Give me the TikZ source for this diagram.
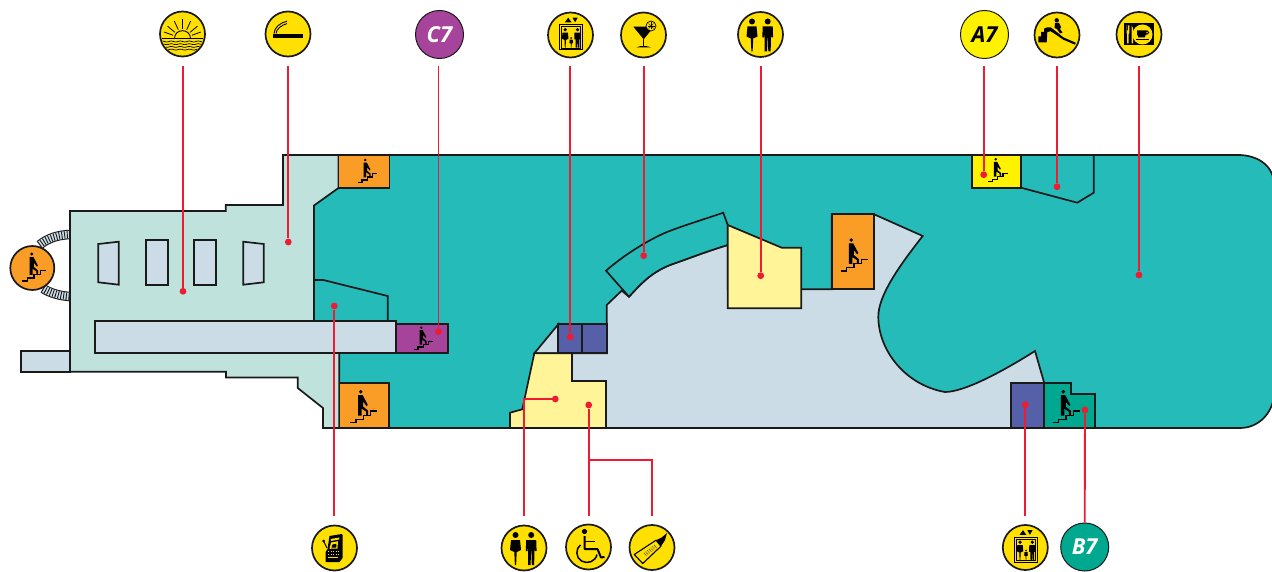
\documentclass[tikz,border=0pt]{standalone}
\usepackage{fontspec}
\usetikzlibrary{calc}
\newfontfamily\signfont{Open Sans}
\definecolor{teal1}{HTML}{25BBB9}
\definecolor{mint}{HTML}{BFE3DC}
\definecolor{greyb}{HTML}{CBDCE6}
\definecolor{orange1}{HTML}{F99D27}
\definecolor{purple1}{HTML}{A5449A}
\definecolor{blue1}{HTML}{5560A8}
\definecolor{paley}{HTML}{FFF498}
\definecolor{green1}{HTML}{00A88F}
\definecolor{yell}{HTML}{FFF200}
\definecolor{icony}{HTML}{FFE000}
\definecolor{redl}{HTML}{ED1C33}
\definecolor{ink}{HTML}{1A1A1A}
\newcommand{\hatcharc}[1]{%
  \draw[ink,line width=9.5pt] #1;
  \draw[greyb,line width=7.4pt] #1;
  \draw[ink,line width=7.4pt,dash pattern=on .9pt off 1.8pt] #1;
}
\tikzset{
  area/.style={draw=ink,line width=1.7pt,line join=miter},
  icon/.style={circle,draw=ink,line width=1.7pt,fill=icony,minimum size=45pt,inner sep=0pt},
  sign/.style={circle,draw=ink,line width=1pt,minimum size=48pt,inner sep=0pt,font=\signfont\bfseries\itshape\fontsize{22}{22}\selectfont},
  dot/.style={circle,fill=redl,minimum size=6.8pt,inner sep=0pt},
  redline/.style={draw=redl,line width=1.9pt},
  pics/walker/.style={code={
    \fill[black] (0,0) circle (1.9);
    \fill[black] (-2.5,3.5)--(2,3.5)--(7,13)--(6,14.5)--(2.5,10)--(2.5,15)--(7.5,19)--(7.5,24)--(5.5,24)--(5.5,20)--(1,17)--(1,24)--(-2.5,24)--cycle;
    \draw[black,line width=1.2pt] (-10.7,31)--(-4.7,31)--(-4.7,27.7)--(2.7,27.7)--(2.7,23.7)--(10,23.7)--(10,19.3)--(16.7,19.3);
  }},
  pics/woman/.style={code={
    \fill[black] (0,-13) circle (3);
    \fill[black] (-4.5,-8)--(4.5,-8)--(5.5,2)--(1.2,4)--(.6,17)--(-.6,17)--(-1.2,4)--(-5.5,2)--cycle;
  }},
  pics/man/.style={code={
    \fill[black] (0,-13) circle (3);
    \fill[black] (-5,-8)--(5,-8)--(5.4,3)--(3.6,3)--(3.2,-3)--(3,17)--(.6,17)--(.2,3)--(-.2,3)--(-.6,17)--(-3,17)--(-3.2,-3)--(-3.6,3)--(-5.4,3)--cycle;
  }},
  pics/lift/.style={code={
    \draw[black,line width=1.2pt] (-10.7,-10.3) rectangle (12,14.7);
    \draw[black,line width=.5pt] (-8.9,-8.5) rectangle (10.2,12.9);
    \fill[black] (-5.7,-12.7)--(1,-12.7)--(-2.3,-17.3)--cycle;
    \fill[black] (2,-17.3)--(7.2,-17.3)--(4.6,-12.7)--cycle;
    \pic[scale=.6] at (-5.3,2.5) {woman};
    \pic[scale=.6] at (7,2.5) {man};
    \pic[scale=.33] at (.7,7.3) {woman};
  }},
}
\begin{document}
\begin{tikzpicture}[x=1pt,y=-1pt]
\useasboundingbox (0,0) rectangle (1272,572);
% arcs of the round stair
\hatcharc{(39.5,245) .. controls (48,238) and (58,235) .. (70,234.5)}
\hatcharc{(43,288.5) .. controls (50,293) and (60,296) .. (70,296.5)}
% main hull
\path[area,fill=teal1] (314,155)--(1238,155) .. controls (1256,155) and (1272,164) .. (1274,182)--(1274,396) .. controls (1272,414) and (1258,428) .. (1240,428)--(339,428)--(339,335)--(314,335)--cycle;
\path[area,fill=mint] (70,211)--(225.7,211)--(225.7,205)--(283,205)--(283,155)--(338.5,155)--(338.5,188)--(314,205.5)--(314,321)--(339.3,321)--(339.3,428)--(323,428)--(323,408)--(297.7,388)--(297.7,377.5)--(226,377.5)--(226,371.7)--(70,371.7)--cycle;
\path[area,fill=greyb] (20.7,351) rectangle (70,371.7);
\path[area,fill=greyb] (98.3,244)--(118.7,241.7)--(118.7,284.7)--(98.3,282.3)--cycle;
\path[area,fill=greyb] (145.7,240)--(167.7,240)--(167.7,285.3)--(145.7,285.3)--cycle;
\path[area,fill=greyb] (194.3,240)--(216.3,240)--(216.3,285.3)--(194.3,285.3)--cycle;
\path[area,fill=greyb] (243.3,241.7)--(263.7,244)--(263.7,282.3)--(243.3,284.7)--cycle;
\path[area] (314.3,280)--(323.3,280)--(387.7,296)--(387.7,321);
\path[area,fill=greyb] (95,321) rectangle (395.7,353);
\path[area,fill=purple1] (395.7,324) rectangle (448,353);
\path[area,fill=orange1] (338.5,155) rectangle (389.5,188);
\path[area,fill=orange1] (339.5,383) rectangle (389,428);
\path[area,fill=orange1] (32.3,268) circle (22);
% centre
\path[area,fill=greyb] (874,214.3)--(922.7,236) .. controls (900,265) and (878.3,295) .. (878.3,316.7) .. controls (878.3,350) and (905,385) .. (945,392) .. controls (965,392) and (1005,370) .. (1035,351)--(1044.3,383.3)--(1044.3,428)--(572,428)--(572,353.3)--(606.7,353.3)--(606.7,305)--(621.7,290.7)--(629,296.7) .. controls (640,285) and (650,273) .. (670,265) .. controls (690,258) and (705,252) .. (727.7,245)--(727.7,289.3)--(831.7,289.3)--(831.7,214.3)--cycle;
\path[area,fill=teal1] (606,270.7) .. controls (630,250) and (655,237) .. (667,232) .. controls (685,225) and (705,219) .. (723.3,212.7)--(727.7,225)--(727.7,245) .. controls (705,252) and (690,258) .. (670,265) .. controls (650,273) and (640,285) .. (629,296.7)--cycle;
\path[area,fill=paley] (727.7,225)--(781.7,247.7)--(801.3,247.7)--(801.3,308.3)--(727.7,308.3)--cycle;
\path[area,fill=orange1] (831.7,214.3) rectangle (874,289.3);
\path[area,fill=greyb] (558.3,324.3)--(534.3,353.3)--(558.3,353.3)--cycle;
\path[area,fill=blue1] (558.3,324.3) rectangle (581.7,353.3);
\path[area,fill=blue1] (581.7,324.3) rectangle (606.7,353.3);
\path[area,fill=paley] (534.3,353.3)--(572,353.3)--(572,381)--(606,381)--(606,428)--(510,428)--(510,412.7)--(522.3,409.3)--cycle;
\path[area,fill=blue1] (1010.7,383.3) rectangle (1044.3,428);
\path[area,fill=green1] (1044.3,383.3)--(1070.7,383.3)--(1070.7,394.3)--(1095,394.3)--(1095,428)--(1044.3,428)--cycle;
\path[area,fill=yell] (971.7,155) rectangle (1021,187.7);
\path[area] (1021,187.7)--(1077.3,202.7)--(1093.7,192.7)--(1093.7,155);
% walkers
\pic[scale=1] at (360.7,391.7) {walker};
\pic[scale=.72] at (365.3,160) {walker};
\pic[scale=.87] at (31.7,254) {walker};
\pic[scale=.7] at (421.3,327.7) {walker};
\pic[scale=1] at (851.3,240) {walker};
\pic[scale=.72] at (995.7,159.3) {walker};
\pic[scale=1] at (1063.3,391.7) {walker};
% circular signs
\node[icon] (sun) at (182.5,34) {};
\node[icon] (cig) at (288,34) {};
\node[sign,fill=purple1,text=white] (c) at (439.5,34.5) {C7};
\node[icon] (liftt) at (570.5,35) {};
\node[icon] (cock) at (643.5,35) {};
\node[icon] (wct) at (760.5,34.5) {};
\node[sign,fill=yell,text=black] (a) at (984.5,34.5) {A7};
\node[icon] (slide) at (1057,35) {};
\node[icon] (rest) at (1139,34.5) {};
\node[icon] (slot) at (334.5,548) {};
\node[icon] (wcb) at (524,548) {};
\node[icon] (chair) at (588.5,547) {};
\node[icon] (bottle) at (652,547.5) {};
\node[icon] (liftb) at (1025.3,547.5) {};
\node[sign,fill=green1,text=white] (b) at (1084.7,547) {B7};
% sun
\begin{scope}[shift={(sun)}]
  \clip (0,0) circle (21.2);
  \foreach \a in {20,40,65,90,115,140,160}{
    \draw[black,line width=.8pt] ({10*cos(\a)},{4.7-10*sin(\a)})--({19.5*cos(\a)},{4.7-19.5*sin(\a)});
  }
  \draw[black,line width=.9pt] (-8,4.7) .. controls (-8,-6) and (8,-6) .. (8,4.7);
  \draw[black,line width=1.1pt] (-22,4.7)--(22,4.7);
  \foreach \y in {7.5,10.2,12.9,15.6}{
    \draw[black,line width=.7pt] plot[domain=-22:22,samples=45] (\x,{\y+.45*sin(40*\x)});
  }
\end{scope}
% cigarette
\begin{scope}[shift={(cig)}]
  \fill[black] (-15.3,0) rectangle (14.7,3.7);
  \draw[black,line width=.9pt] (-14,-.5) .. controls (-13.5,-7) and (-8,-11) .. (-1,-12.8);
  \draw[black,line width=.9pt] (-12,-.5) .. controls (-11.5,-5.5) and (-6,-9) .. (-1,-10.4);
\end{scope}
% lift signs
\pic at (liftt) {lift};
\pic at (liftb) {lift};
% cocktail
\begin{scope}[shift={(cock)}]
  \fill[black] (-10.2,-8.3)--(10.5,-8.3)--(.2,4.3)--cycle;
  \draw[black,line width=1.2pt] (.2,4)--(.2,11);
  \fill[black] (-7,12.3) .. controls (-3,10.5) and (3,10.5) .. (7.2,12.3)--cycle;
  \filldraw[draw=black,fill=icony,line width=.7pt] (7.5,-9) circle (5);
  \foreach \a/\b in {-3.5/0,-2.5/2.5,0/3.5,2.5/2.5,3.5/0,2.5/-2.5,0/-3.5,-2.5/-2.5}{
    \draw[black,line width=.35pt] (7.5,-9)--++(\a,\b);
  }
\end{scope}
% toilets
\pic at ($(wct)+(-8.5,0)$) {woman};
\pic at ($(wct)+(7.2,0)$) {man};
\pic at ($(wcb)+(-8.5,0)$) {woman};
\pic at ($(wcb)+(7.2,0)$) {man};
% slide
\begin{scope}[shift={(slide)}]
  \fill[black] (-18.7,7.3)--(-18.7,1.3)--(-16,1.3)--(-16,-3)--(-13,-3)--(-13,-6.3)--(-9.7,-7.7)--(-6.3,-7.7)--(-.3,-3)--(6.3,2.3)--(18.7,7.7)--(18,9.7)--(6.3,4.7)--(-2,-1)--(-6.3,-3.7)--(-9.7,-3)--(-10.3,7.3)--cycle;
  \fill[black] (-.3,-14.7) circle (2.2);
  \fill[black] (-2,-12)--(2,-12)--(4,-8)--(3,-6)--(5.5,-2.5)--(3,-1.5)--(0,-6)--(-2.5,-7)--cycle;
\end{scope}
% restaurant
\begin{scope}[shift={(rest)}]
  \fill[black] (-15,-11.7) rectangle (15,11);
  \fill[icony] (3.5,0) circle (10);
  \fill[icony] (-12.5,-9)--(-11.8,-9)--(-11.8,-4)--(-11,-4)--(-11,-9)--(-10.3,-9)--(-10.3,-9)--(-9.6,-9)--(-9.6,-2)--(-10.3,-.5)--(-10.3,9)--(-11.8,9)--(-11.8,-.5)--(-12.5,-2)--cycle;
  \fill[icony] (-7.5,-9) .. controls (-5.5,-7) and (-5.5,-3) .. (-5.8,0)--(-5.8,9)--(-7.5,9)--cycle;
  \fill[black] (-2,-4) rectangle (7,1) (-1,1) rectangle (6,3);
  \draw[black,line width=.8pt] (8,-2) circle (1.8);
  \draw[black,line width=1pt] (-3.5,5)--(10,5);
\end{scope}
% slot machine
\begin{scope}[shift={(slot)}]
  \fill[black] (-5,-12)--(7,-14)--(8,-13)--(8,10)--(5,14)--(-9,14)--(-9,4)--(-7,1)--cycle;
  \fill[icony] (-3.8,-9)--(5,-10.5)--(4.5,-8.5)--(-3.6,-7)--cycle;
  \fill[icony] (-3.5,-5.5)--(3.5,-6.8)--(3,.5)--(-5,.8)--cycle;
  \fill[black] (-2,-3.5)--(2,-4.2)--(1.7,-.5)--(-3,-.3)--cycle;
  \foreach \x in {-6.5,-4,-1.5,1,3.5}{\fill[icony] (\x,3) rectangle ++(1.4,1.2);\fill[icony] (\x,6) rectangle ++(1.4,1.2);}
  \fill[icony] (-7,9) rectangle (3,10);
  \draw[black,line width=.9pt] (-11,-7)--(-7.5,0);
  \fill[black] (-11,-7) circle (1.5);
\end{scope}
% wheelchair
\begin{scope}[shift={(chair)}]
  \fill[black] (-4,-15.5) circle (2.6);
  \draw[black,line width=2pt,line join=round] (-4,-11)--(-4,2)--(9,2)--(12.5,10.5)--(16,10);
  \draw[black,line width=1.4pt] (-4,-5.5)--(6,-5.5);
  \draw[black,line width=1.5pt] (-8,-2) .. controls (-13,1) and (-13,11) .. (-7,14) .. controls (-1,17.5) and (7,14.5) .. (8.5,7.5);
\end{scope}
% bottle
\begin{scope}[shift={(bottle)}]
  \draw[black,line width=1.1pt,line join=round] (-17.7,7)--(4,-7.3)--(9,-1.3)--(-9.3,16)--cycle;
  \fill[black] (4,-7.3)--(9.7,-10)--(15,-14.5)--(13,-7.3)--(9,-1.3)--cycle;
  \foreach \t in {0,1,2,3,4,5,6}{
    \draw[black!75,line width=.8pt,dash pattern=on .8pt off .8pt] ($(-8,5.5)+(\t*1.7,-\t*1.3)$)--++(2.4,2.8);
  }
\end{scope}
% connectors
\node[dot] (d1) at (183,291.3) {};
\node[dot] (d2) at (288.3,242) {};
\node[dot] (d3) at (438.5,331.7) {};
\node[dot] (d4) at (570.3,337) {};
\node[dot] (d5) at (643.7,255.7) {};
\node[dot] (d6) at (760.7,275.7) {};
\node[dot] (d7) at (983.7,174.7) {};
\node[dot] (d8) at (1057,186.7) {};
\node[dot] (d9) at (1139,275) {};
\node[dot] (d10) at (334.3,306) {};
\node[dot] (d11) at (555.3,399) {};
\node[dot] (d12) at (588.7,405) {};
\node[dot] (d13) at (1025.3,404.7) {};
\node[dot] (d14) at (1085,410) {};
\coordinate (t1) at (183,66);
\coordinate (t2) at (288.3,66);
\coordinate (t3) at (438.5,66);
\coordinate (t4) at (570.3,66);
\coordinate (t5) at (643.7,66);
\coordinate (t6) at (760.7,66);
\coordinate (t7) at (983.7,66);
\coordinate (t8) at (1057,66);
\coordinate (t9) at (1139,66);
\coordinate (b10) at (334.3,516);
\coordinate (b11) at (524.3,516);
\coordinate (e11) at (524.3,399);
\coordinate (b12) at (588.7,516);
\coordinate (b13) at (1025.3,516);
\coordinate (br) at (588.7,460);
\coordinate (b15) at (652,516);
\foreach \i in {1,...,9}{\draw[redline] (t\i)--(d\i);}
\draw[redline] (b10)--(d10);
\draw[redline] (b11)--(e11)--(d11);
\draw[redline] (b12)--(d12);
\draw[redline] (br)-|(b15);
\draw[redline] (b13)--(d13);
\draw[redline] (b.north)--(d14);
\end{tikzpicture}
\end{document}
